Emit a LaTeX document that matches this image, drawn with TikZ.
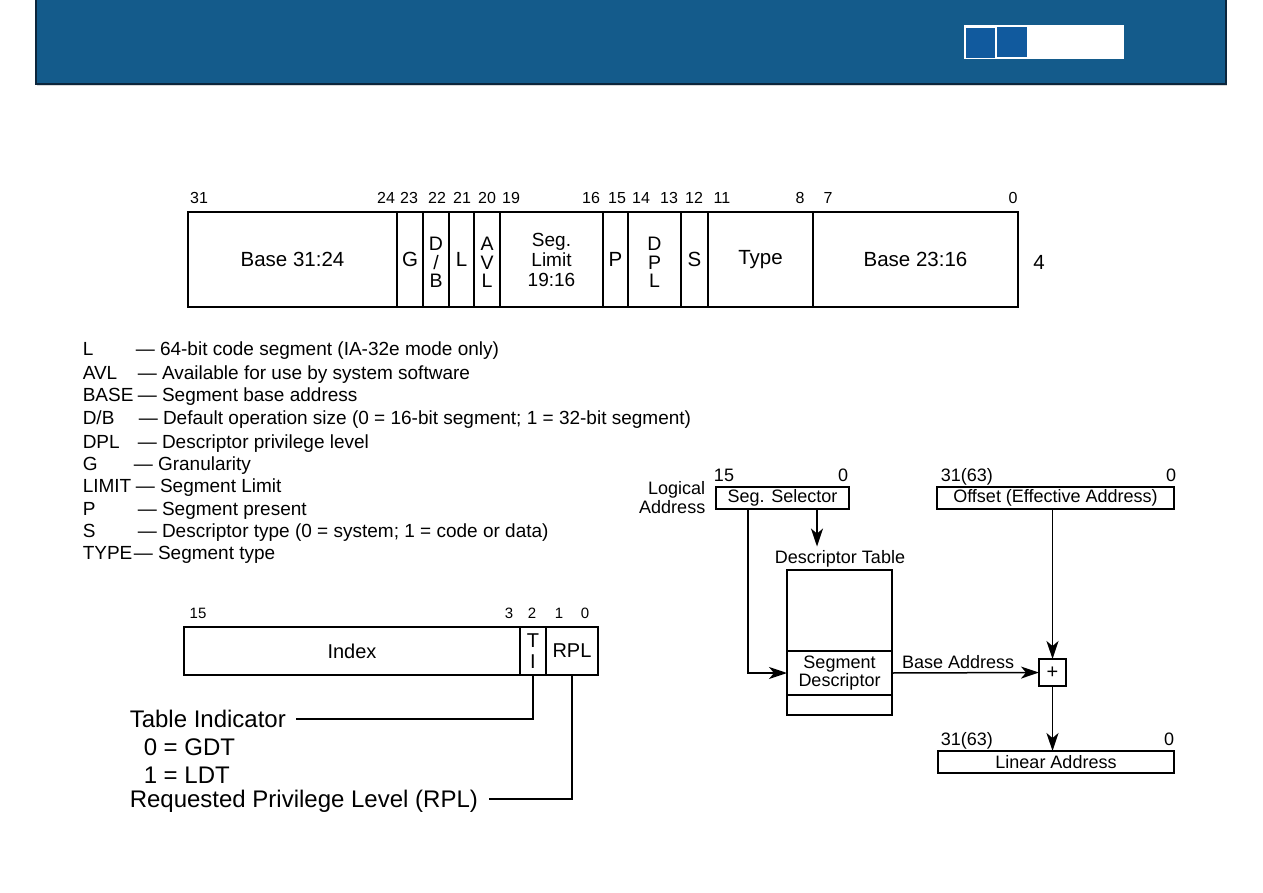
\documentclass[tikz,border=0pt]{standalone}
\usepackage{fontspec}
\setmainfont{Liberation Sans}
\usetikzlibrary{arrows.meta,positioning}
\definecolor{hdrblue}{RGB}{20,91,139}
\definecolor{hdredge}{RGB}{12,38,60}
\definecolor{tabblue}{RGB}{17,90,158}

\begin{document}
\begin{tikzpicture}[x=1pt, y=-1pt, line width=1.5pt,
    >={Stealth[length=18pt,width=12pt,inset=5pt]},
    cell/.style={draw, inner sep=0pt, outer sep=0pt, align=center},
    bitnum/.style={font=\fontsize{16}{18}\selectfont, anchor=base},
    regtxt/.style={font=\fontsize{20.5}{17.5}\selectfont},
    stacktxt/.style={font=\fontsize{19.5}{18.5}\selectfont, text depth=0pt},
    legtxt/.style={font=\fontsize{19}{22}\selectfont, anchor=base west, inner sep=0pt},
    seltxt/.style={font=\fontsize{20}{21}\selectfont},
    bigtxt/.style={font=\fontsize{24}{27}\selectfont, anchor=west, inner sep=0pt,
                   text height=17.2pt, text depth=0pt},
    addrtxt/.style={font=\fontsize{18}{19}\selectfont}]

    \useasboundingbox (0,0) rectangle (1263,893);

    % --- cabecera ---
    \fill[hdrblue] (36,0) rectangle (1226,84);
    \draw[black!15, line width=1pt] (37,86) -- (1227,86);
    \draw[hdredge] (36,0) -- (36,84) -- (1226,84) -- (1226,0);
    \fill[white] (964,25) rectangle (1124,59);
    \fill[tabblue] (966,28) rectangle (995,58);
    \fill[tabblue] (997,27) rectangle (1027,57);

    % --- descriptor de segmento, bits 31..0 ---
    \node[cell, regtxt, minimum width=209, minimum height=95, anchor=north west]
        (base3124) at (188,212) {Base 31:24};
    \node[cell, regtxt, minimum width=26, minimum height=95, right=0pt of base3124] (gbit) {G};
    \node[cell, stacktxt, minimum width=26, minimum height=95, right=0pt of gbit] (dbbit) {};
    \node[cell, regtxt, minimum width=25, minimum height=95, right=0pt of dbbit] (lbit) {L};
    \node[cell, stacktxt, minimum width=26, minimum height=95, right=0pt of lbit] (avlbit) {};
    \node[cell, minimum width=103, minimum height=95, right=0pt of avlbit,
          font=\fontsize{19}{20}\selectfont] (seglim) {Seg.\\Limit\\19:16};
    \node[cell, regtxt, minimum width=25, minimum height=95, right=0pt of seglim] (pbit) {P};
    \node[cell, stacktxt, minimum width=53, minimum height=95, right=0pt of pbit] (dplbit) {};
    \node[cell, regtxt, minimum width=27, minimum height=95, right=0pt of dplbit] (sbit) {S};
    \node[cell, regtxt, minimum width=105, minimum height=95, right=0pt of sbit] (typebit) {Type};
    \node[cell, regtxt, minimum width=205, minimum height=95, right=0pt of typebit] (base2316) {Base 23:16};
    \node[regtxt] (dword4) at (1039,262) {4};

    % letras apiladas
    \node[stacktxt, align=center, yshift=-3pt] (dbtxt) at (dbbit) {D\\/\\B};
    \node[stacktxt, align=center, yshift=-3pt] (avltxt) at (avlbit) {A\\V\\L};
    \node[stacktxt, align=center, yshift=-3pt] (dpltxt) at (dplbit) {D\\P\\L};

    \foreach \n/\x in {31/199, 24/386, 23/409, 22/437, 21/462, 20/487, 19/511, 16/591,
                       15/617, 14/641, 13/669, 12/694, 11/722, 8/800, 7/828, 0/1013}
        \node[bitnum] (top\n) at (\x,204) {\n};

    % --- leyenda ---
    \foreach \y/\ab/\x/\txt [count=\i] in {
        348/L/135/{64-bit code segment (IA-32e mode only)},
        372/AVL/137/{Available for use by system software},
        394/BASE/137/{Segment base address},
        417/{D/B}/138/{Default operation size (0 = 16-bit segment; 1 = 32-bit segment)},
        441/DPL/137/{Descriptor privilege level},
        463/G/133/{Granularity},
        485/LIMIT/135/{Segment Limit},
        508/P/137/{Segment present},
        530/S/137/{Descriptor type (0 = system; 1 = code or data)},
        552/TYPE/133/{Segment type}} {
        \node[legtxt] (abbr\i) at (82,\y+7) {\ab};
        \node[legtxt] (desc\i) at (\x,\y+7) {— \txt};
    }

    % --- selector ---
    \node[cell, seltxt, minimum width=336, minimum height=48, anchor=north west]
        (index) at (184,627) {Index};
    \node[cell, seltxt, minimum width=26, minimum height=48, right=0pt of index] (ti) {T\\I};
    \node[cell, seltxt, minimum width=52, minimum height=48, right=0pt of ti] (rpl) {RPL};

    \foreach \n/\x in {15/198, 3/509, 2/532, 1/559, 0/585}
        \node[bitnum, font=\fontsize{15}{17}\selectfont] (sel\n) at (\x,618) {\n};

    \node[bigtxt] (tilbl) at (129,719) {Table Indicator};
    \node[bigtxt] (gdt) at (143,747) {0 = GDT};
    \node[bigtxt] (ldt) at (143,775) {1 = LDT};
    \node[bigtxt] (rpllbl) at (129,799) {Requested Privilege Level (RPL)};

    \draw (ti.south) |- ([xshift=9pt]tilbl.east);
    \draw (rpl.south) |- ([xshift=10pt]rpllbl.east);

    % --- traduccion de direccion logica ---
    \node[cell, addrtxt, minimum width=133, minimum height=22] (sel) at (782.5,498) {Seg. Selector};
    \node[addrtxt, anchor=base, inner sep=0pt] (sel15) at (724,481) {15};
    \node[addrtxt, anchor=base, inner sep=0pt] (sel0) at (843,481) {0};
    \node[addrtxt, align=right, anchor=east, inner sep=0pt] (logaddr) at (706,498) {Logical\\Address};

    \node[cell, addrtxt, minimum width=237, minimum height=22] (off) at (1055.5,498)
        {Offset (Effective Address)};
    \node[addrtxt, anchor=base west, inner sep=0pt] (offhi) at (940,481) {31(63)};
    \node[addrtxt, anchor=base, inner sep=0pt] (offlo) at (1171,481) {0};

    \node[addrtxt] (dtlbl) at (840,559) {Descriptor Table};
    \node[cell, minimum width=105, minimum height=145] (dt) at (839.5,642.5) {};
    \node[cell, minimum width=105, minimum height=44, font=\fontsize{18}{16}\selectfont]
        (segdesc) at (839.5,673) {Segment\\Descriptor};

    \node[cell, font=\fontsize{20}{20}\selectfont, minimum size=27] (plus) at (1052.5,672.5) {+};

    \node[cell, addrtxt, minimum width=236, minimum height=22] (lin) at (1056,762) {Linear Address};
    \node[addrtxt, anchor=base west, inner sep=0pt] (linhi) at (940,745) {31(63)};
    \node[addrtxt, anchor=base, inner sep=0pt] (linlo) at (1169,745) {0};

    % --- flechas ---
    \draw[->] ([xshift=34.5pt]sel.south) -- ([xshift=34.5pt]sel.south |- dtlbl.north);
    \draw[->] ([xshift=-34.5pt]sel.south) |- (segdesc.west);
    \draw[->] (segdesc.east) -- node[addrtxt, above, pos=0.45] (balbl) {Base Address} (plus.west);
    \draw[->] (off.south -| plus.north) -- (plus.north);
    \draw[->] (plus.south) -- (plus.south |- lin.north);

\end{tikzpicture}
\end{document}
